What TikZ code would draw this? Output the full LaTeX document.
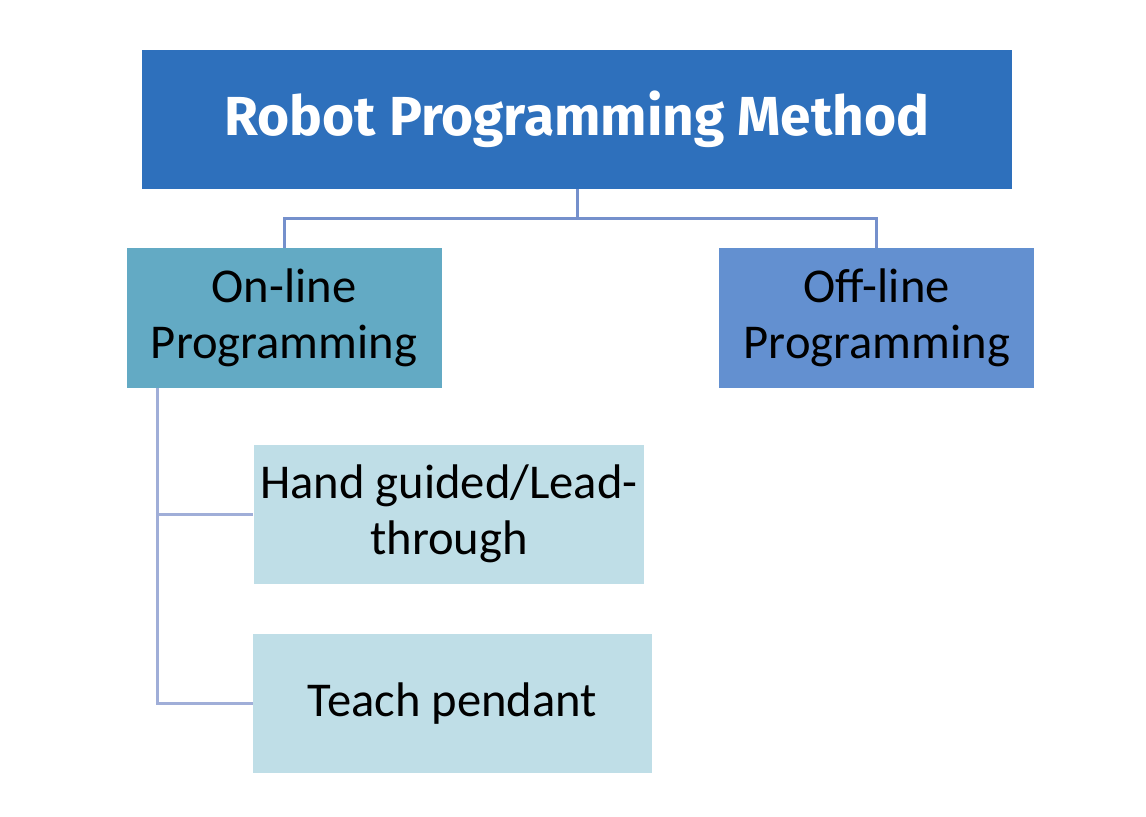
\documentclass[tikz,border=0pt]{standalone}
\usepackage{fontspec}
\setmainfont{Carlito}
\newfontfamily\titlefont{Fira Sans}
\usetikzlibrary{positioning}
\definecolor{methodblue}{HTML}{2E70BC}
\definecolor{onlineteal}{HTML}{63AAC4}
\definecolor{offlineblue}{HTML}{6390D0}
\definecolor{leafblue}{HTML}{BFDEE7}
\definecolor{toplink}{HTML}{7590CC}
\definecolor{sublink}{HTML}{A0AED8}
\tikzstyle{method_node} = [rectangle, minimum width=435pt, minimum height=69.5pt, text centered, fill=methodblue, text=white, font=\titlefont\bfseries\fontsize{27.5}{32}\selectfont]
\tikzstyle{kind_node} = [rectangle, minimum width=157.5pt, minimum height=70pt, align=center, font=\fontsize{24.3}{28}\selectfont]
\tikzstyle{leaf_node} = [rectangle, minimum height=69.5pt, align=center, fill=leafblue, font=\fontsize{24.3}{28}\selectfont]
\tikzstyle{top_link} = [draw=toplink, line width=1.5pt]
\tikzstyle{sub_link} = [draw=sublink, line width=1.5pt]

\begin{document}
\begin{tikzpicture}[x=0.5pt, y=-0.5pt, node distance=25pt and 138.5pt]
\useasboundingbox (0,0) rectangle (1146,816);
\node (method) [method_node] at (577,119.5) {Robot Programming Method};
\node (online) [kind_node, fill=onlineteal] at (284,318) {On-line\\Programming};
\node (offline) [kind_node, fill=offlineblue, right=of online] {Off-line\\Programming};
\node (handguided) [leaf_node, minimum width=194pt] at (449,514) {Hand guided/Lead-\\through};
\node (teach) [leaf_node, minimum width=199.5pt, below=of handguided, xshift=1.75pt] {Teach pendant};

% Verbindungen
\coordinate (branch) at ([yshift=-14.5pt]method.south);
\coordinate (trunk) at ([xshift=15.5pt]online.south west);
\draw [top_link] (method.south) -- (branch) -| (online.north);
\draw [top_link] (branch) -| (offline.north);
\draw [sub_link] (trunk) |- (handguided.west);
\draw [sub_link] (trunk) |- (teach.west);
\end{tikzpicture}
\end{document}
